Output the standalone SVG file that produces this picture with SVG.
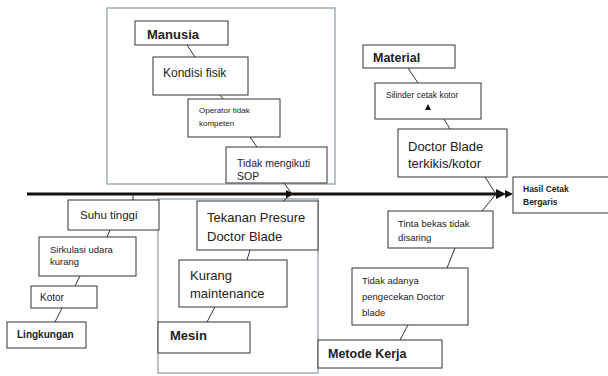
<svg xmlns="http://www.w3.org/2000/svg" width="608" height="376" viewBox="0 0 608 376">
<style>
.frame{fill:none;stroke:#a3adb8;stroke-width:1.5}
.box{fill:#fff;stroke:#333;stroke-width:1}
.t{font-family:"Liberation Sans",Arial,sans-serif;fill:#222}
.b{font-weight:bold}
.c{stroke:#333;stroke-width:1;fill:none}
</style>
<defs>
<marker id="ah" markerWidth="8" markerHeight="8" refX="7" refY="4" orient="auto" markerUnits="userSpaceOnUse">
<path d="M0,0 L8,4 L0,8 Z" fill="#111"/>
</marker>
</defs>
<rect width="608" height="376" fill="#fff"/>
<g id="frames">
<rect class="frame" x="107" y="8" width="228" height="176"/>
<rect class="frame" x="158" y="199" width="160" height="174"/>
</g>
<g id="connectors">
<line x1="27" y1="194" x2="497" y2="194" stroke="#111" stroke-width="3"/>
<polygon points="496,189 506,194 496,199" fill="#111"/>
<polygon points="505,190 513,194 505,198" fill="#111"/>
<polygon points="286,190 294,194 286,198" fill="#111"/>
<line class="c" x1="187" y1="45" x2="195" y2="57"/>
<line class="c" x1="220" y1="95" x2="223" y2="99"/>
<line class="c" x1="250" y1="137" x2="257" y2="147"/>
<line class="c" x1="284" y1="183" x2="292" y2="194"/>
<line class="c" x1="408" y1="68" x2="418" y2="83"/>
<line class="c" x1="444" y1="119" x2="450" y2="129"/>
<line class="c" x1="485" y1="177" x2="496" y2="194"/>
<line class="c" x1="133" y1="194" x2="133" y2="200"/>
<line class="c" x1="110" y1="230" x2="107" y2="237"/>
<line class="c" x1="80" y1="276" x2="75" y2="286"/>
<line class="c" x1="62" y1="308" x2="55" y2="322"/>
<line class="c" x1="283" y1="201" x2="292" y2="194"/>
<line class="c" x1="247" y1="260" x2="250" y2="250"/>
<line class="c" x1="207" y1="322" x2="215" y2="307"/>
<line class="c" x1="482" y1="211" x2="496" y2="194"/>
<line class="c" x1="447" y1="268" x2="455" y2="248"/>
<line class="c" x1="400" y1="340" x2="408" y2="325"/>
</g>
<g id="manusia"><rect class="box" x="135" y="21" width="93" height="24"/><text class="t b" x="147" y="39" font-size="13">Manusia</text></g>
<g id="kondisi"><rect class="box" x="153" y="57" width="95" height="38"/><text class="t" x="163" y="77" font-size="12">Kondisi fisik</text></g>
<g id="operator"><rect class="box" x="188" y="99" width="92" height="38"/><text class="t" x="199" y="113" font-size="8">Operator tidak</text><text class="t" x="199" y="126" font-size="8">kompeten</text></g>
<g id="sop"><rect class="box" x="226" y="147" width="101" height="36"/><text class="t" x="237" y="167" font-size="10.5">Tidak mengikuti</text><text class="t" x="237" y="180" font-size="10.5">SOP</text></g>
<g id="material"><rect class="box" x="363" y="45" width="92" height="23"/><text class="t b" x="373" y="62" font-size="12.5">Material</text></g>
<g id="silinder"><rect class="box" x="375" y="83" width="106" height="36"/><text class="t" x="386" y="98" font-size="8.5">Silinder cetak kotor</text><polygon points="425,110 428,104 431,110" fill="#111"/></g>
<g id="doctor"><rect class="box" x="398" y="129" width="109" height="48"/><text class="t" x="408" y="151" font-size="13">Doctor Blade</text><text class="t" x="408" y="168" font-size="13">terkikis/kotor</text></g>
<g id="hasil"><rect class="box" x="513" y="177" width="100" height="36"/><text class="t b" x="523" y="192" font-size="8.5">Hasil Cetak</text><text class="t b" x="523" y="205" font-size="8.5">Bergaris</text></g>
<g id="suhu"><rect class="box" x="68" y="200" width="91" height="30"/><text class="t" x="80" y="219" font-size="11.5">Suhu tinggi</text></g>
<g id="sirkulasi"><rect class="box" x="39" y="237" width="97" height="39"/><text class="t" x="50" y="253" font-size="9.5">Sirkulasi udara</text><text class="t" x="50" y="265" font-size="9.5">kurang</text></g>
<g id="kotor"><rect class="box" x="31" y="286" width="66" height="22"/><text class="t" x="40" y="301" font-size="10">Kotor</text></g>
<g id="lingkungan"><rect class="box" x="7" y="322" width="79" height="26"/><text class="t b" x="17" y="338" font-size="10">Lingkungan</text></g>
<g id="tekanan"><rect class="box" x="197" y="201" width="121" height="49"/><text class="t" x="207" y="222" font-size="13">Tekanan Presure</text><text class="t" x="207" y="241" font-size="13">Doctor Blade</text></g>
<g id="kurang"><rect class="box" x="179" y="260" width="108" height="47"/><text class="t" x="190" y="280" font-size="13">Kurang</text><text class="t" x="190" y="298" font-size="13">maintenance</text></g>
<g id="mesin"><rect class="box" x="158" y="322" width="92" height="31"/><text class="t b" x="170" y="340" font-size="13">Mesin</text></g>
<g id="tinta"><rect class="box" x="388" y="211" width="105" height="37"/><text class="t" x="398" y="227" font-size="9.5">Tinta bekas tidak</text><text class="t" x="398" y="241" font-size="9.5">disaring</text></g>
<g id="adanya"><rect class="box" x="352" y="268" width="116" height="57"/><text class="t" x="362" y="284" font-size="9.5">Tidak adanya</text><text class="t" x="362" y="300" font-size="9.5">pengecekan Doctor</text><text class="t" x="362" y="316" font-size="9.5">blade</text></g>
<g id="metode"><rect class="box" x="318" y="340" width="124" height="28"/><text class="t b" x="328" y="358" font-size="12.5">Metode Kerja</text></g>
</svg>
